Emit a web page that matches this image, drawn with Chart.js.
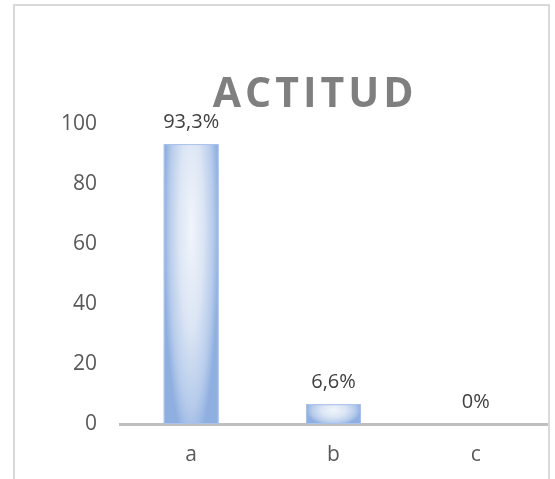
<!DOCTYPE html>
<html>
<head>
<meta charset="utf-8">
<script src="https://cdn.jsdelivr.net/npm/chart.js@4/dist/chart.umd.min.js"></script>
<style>
  html, body { margin: 0; padding: 0; background: #ffffff; overflow: hidden; }
  #wrap { position: relative; width: 555px; height: 479px; }
  #frame { position: absolute; left: 13px; top: 4px; width: 533px; height: 480px;
           border-left: 2px solid #d9d9d9; border-top: 2px solid #d9d9d9; border-right: 2px solid #d9d9d9; }
  canvas { position: absolute; left: 0; top: 0; }
</style>
</head>
<body>
<div id="wrap">
  <div id="frame"></div>
  <canvas id="c" width="555" height="479"></canvas>
</div>
<script>
const titleText = 'ACTITUD';
const categories = ['a', 'b', 'c'];
const values = [93.3, 6.6, 0];
const yTicks = [0, 20, 40, 60, 80, 100];

const fmt = v => String(v).replace('.', ',') + '%';

const barPaint = {
  id: 'barPaint',
  afterDatasetsDraw(chart) {
    const ctx = chart.ctx;
    const meta = chart.getDatasetMeta(0);
    ctx.save();
    meta.data.forEach((el, i) => {
      const w = el.width;
      const left = el.x - w / 2, right = el.x + w / 2;
      const top = el.y, bottom = el.base;
      const h = bottom - top;
      if (h > 0.5) {
        ctx.save();
        ctx.beginPath();
        ctx.rect(left, top, w, h);
        ctx.clip();
        const cy = top + h * 0.3;
        ctx.translate(el.x, cy);
        ctx.scale(w / 2, Math.max(h * 0.8, 1));
        const g = ctx.createRadialGradient(0, 0, 0, 0, 0, 1);
        g.addColorStop(0, '#f1f5fb');
        g.addColorStop(0.45, '#dbe5f4');
        g.addColorStop(0.8, '#b6cbeb');
        g.addColorStop(1, '#8fafe0');
        ctx.fillStyle = g;
        ctx.fillRect(-2, -2, 4, 4);
        ctx.restore();
        ctx.strokeStyle = '#a9c3ea';
        ctx.lineWidth = 1;
        ctx.strokeRect(left + 0.5, top + 0.5, w - 1, h - 1);
      }
      ctx.fillStyle = '#404040';
      ctx.font = '20px "Open Sans"';
      ctx.textAlign = 'center';
      ctx.textBaseline = 'middle';
      ctx.fillText(fmt(values[i]), el.x, el.y - 22);
    });
    ctx.restore();
  },
  afterDraw(chart) {
    const ctx = chart.ctx;
    ctx.save();
    ctx.font = 'bold 41px "Open Sans"';
    ctx.fillStyle = '#7f7f7f';
    ctx.textAlign = 'center';
    ctx.textBaseline = 'middle';
    if ('letterSpacing' in ctx) ctx.letterSpacing = '4px';
    ctx.fillText(titleText, chart.width * 0.568, 95);
    ctx.restore();
  }
};

new Chart(document.getElementById('c'), {
  type: 'bar',
  data: {
    labels: categories,
    datasets: [{
      data: values,
      backgroundColor: 'rgba(0,0,0,0)',
      borderWidth: 0,
      barPercentage: 0.77,
      categoryPercentage: 0.5
    }]
  },
  options: {
    responsive: false,
    animation: false,
    events: [],
    layout: { padding: { top: 124, right: 8, left: 0, bottom: 0 } },
    plugins: { legend: { display: false }, tooltip: { enabled: false }, title: { display: false } },
    scales: {
      x: {
        grid: { display: false, drawTicks: false },
        border: { display: true, color: '#bfbfbf', width: 3 },
        ticks: { color: '#595959', font: { family: 'Open Sans', size: 21 }, padding: 18 },
        afterFit(scale) { scale.height = 55; }
      },
      y: {
        min: 0, max: 100,
        afterBuildTicks(scale) { scale.ticks = yTicks.map(v => ({ value: v })); },
        grid: { display: false, drawTicks: false },
        border: { display: false },
        ticks: { color: '#595959', font: { family: 'Open Sans', size: 21 }, padding: 23 },
        afterFit(scale) { scale.width = 120; }
      }
    }
  },
  plugins: [barPaint]
});
</script>
</body>
</html>
